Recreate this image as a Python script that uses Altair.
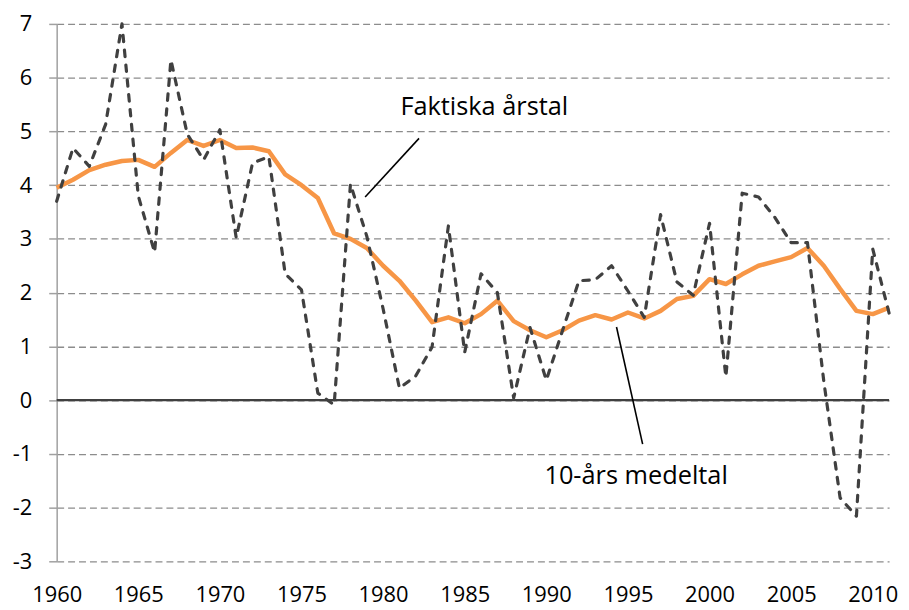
import altair as alt
import pandas as pd

years = list(range(1960, 2012))

faktiska = [3.70, 4.69, 4.35, 5.13, 7.00, 3.80, 2.75, 6.33, 4.95, 4.47,
            5.03, 3.02, 4.41, 4.53, 2.35, 2.05, 0.13, -0.09, 4.02, 3.05,
            1.70, 0.22, 0.45, 0.99, 3.24, 0.89, 2.35, 2.00, 0.04, 1.35,
            0.37, 1.30, 2.22, 2.24, 2.50, 2.03, 1.54, 3.45, 2.20, 1.95,
            3.29, 0.43, 3.85, 3.78, 3.40, 2.93, 2.93, 0.35, -1.82, -2.16,
            2.81, 1.62]

medeltal = [3.95, 4.10, 4.28, 4.38, 4.45, 4.47, 4.34, 4.60, 4.84, 4.73,
            4.84, 4.69, 4.70, 4.63, 4.20, 4.00, 3.76, 3.10, 3.00, 2.83,
            2.50, 2.22, 1.85, 1.45, 1.54, 1.43, 1.60, 1.85, 1.47, 1.30,
            1.17, 1.30, 1.48, 1.58, 1.50, 1.63, 1.52, 1.66, 1.88, 1.94,
            2.25, 2.16, 2.34, 2.50, 2.58, 2.66, 2.83, 2.50, 2.07, 1.66,
            1.60, 1.72]

x_ticks = [1960, 1965, 1970, 1975, 1980, 1985, 1990, 1995, 2000, 2005, 2010]
y_ticks = [-3, -2, -1, 0, 1, 2, 3, 4, 5, 6, 7]

label_text = ["Faktiska årstal", "10-års medeltal"]
label_x = [1986.2, 1995.5]
label_y = [5.45, -1.42]

leader_x = [1982.2, 1994.3]
leader_y = [4.87, 1.36]
leader_x2 = [1978.9, 1995.9]
leader_y2 = [3.78, -0.82]

zero_line = [0]

FONT = "Open Sans"
FS = 22
FS_ANN = 25.5

df = pd.DataFrame({"year": years, "faktiska": faktiska, "medeltal": medeltal})
labels_df = pd.DataFrame({"x": label_x, "y": label_y, "label": label_text})
leaders_df = pd.DataFrame({"x": leader_x, "y": leader_y, "x2": leader_x2, "y2": leader_y2})
zero_df = pd.DataFrame({"v": zero_line})

xscale = alt.Scale(domain=[1960, 2011], nice=False, zero=False)
yscale = alt.Scale(domain=[-3, 7], nice=False, zero=False)

x_axis = alt.Axis(values=x_ticks, labelExpr="'' + datum.value", domain=False, ticks=False,
                  grid=False, labelPadding=23, labelFlush=False, labelFont=FONT,
                  labelFontSize=FS, labelColor="#000000", title=None, labelOverlap=False)
y_axis = alt.Axis(values=y_ticks, labelExpr="'' + datum.value", grid=True, gridDash=[7, 4],
                  gridColor="#8c8c8c", gridWidth=1.3, domainColor="#a0a0a0", domainWidth=1.5,
                  tickColor="#a0a0a0", tickSize=8, tickWidth=1.5, labelPadding=17,
                  labelFont=FONT, labelFontSize=FS, labelColor="#000000", title=None,
                  labelOverlap=False)

X = lambda f: alt.X(f, scale=xscale, axis=x_axis, title=None)
Y = lambda f: alt.Y(f, scale=yscale, axis=y_axis, title=None)

orange = alt.Chart(df).mark_line(color="#F79646", strokeWidth=4.5, strokeJoin="round").encode(
    x=X("year:Q"),
    y=Y("medeltal:Q"),
)

zero = alt.Chart(zero_df).mark_rule(color="#404040", strokeWidth=2.2).encode(
    y=Y("v:Q")
)

dashed = alt.Chart(df).mark_line(color="#404040", strokeWidth=3.2, strokeDash=[6.5, 8.5],
                                 strokeCap="round", strokeJoin="round").encode(
    x=X("year:Q"),
    y=Y("faktiska:Q"),
)

leaders = alt.Chart(leaders_df).mark_rule(color="#000000", strokeWidth=1.6).encode(
    x=X("x:Q"),
    y=Y("y:Q"),
    x2="x2:Q",
    y2="y2:Q",
)

texts = alt.Chart(labels_df).mark_text(font=FONT, fontSize=FS_ANN, align="center",
                                       baseline="middle", color="#000000").encode(
    x=X("x:Q"),
    y=Y("y:Q"),
    text="label:N",
)

chart = alt.layer(orange, zero, dashed, leaders, texts).properties(
    width=838, height=541,
    autosize=alt.AutoSizeParams(type="none"),
    padding={"left": 49, "top": 14, "right": 12, "bottom": 47},
).configure_view(stroke=None)

chart.save("out.html", embed_options={"renderer": "svg", "actions": False})
